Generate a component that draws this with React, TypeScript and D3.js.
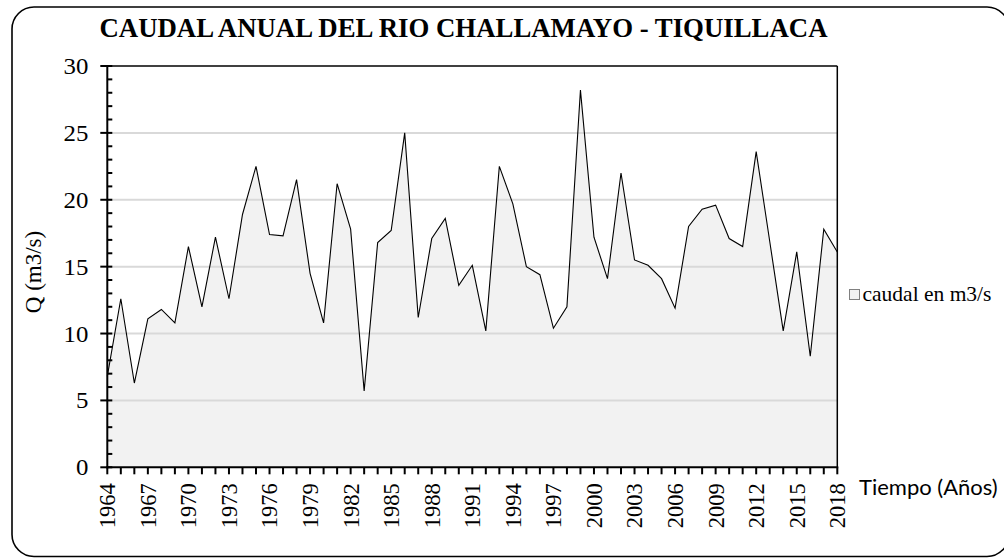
import React from "react";
import * as d3 from "d3";

const years: number[] = d3.range(1964, 2019);
const caudal: number[] = [
  6.8, 12.6, 6.3, 11.1, 11.8, 10.8, 16.5, 12.0, 17.2, 12.6,
  18.9, 22.5, 17.4, 17.3, 21.5, 14.5, 10.8, 21.2, 17.8, 5.7,
  16.8, 17.7, 25.0, 11.2, 17.1, 18.6, 13.6, 15.1, 10.2, 22.5,
  19.7, 15.0, 14.4, 10.4, 12.0, 28.2, 17.2, 14.1, 22.0, 15.5,
  15.1, 14.1, 11.9, 18.0, 19.3, 19.6, 17.1, 16.5, 23.6, 16.9,
  10.2, 16.1, 8.3, 17.8, 16.1,
];
const yTicks: number[] = [0, 5, 10, 15, 20, 25, 30];
const xTickLabels: number[] = d3.range(1964, 2019, 3);
const title = "CAUDAL ANUAL DEL RIO CHALLAMAYO - TIQUILLACA";
const yTitle = "Q (m3/s)";
const xTitle = "Tiempo (Años)";
const legendLabel = "caudal en m3/s";

export default function App() {
  const W = 1004, H = 558;
  const left = 107.3, right = 837.3, top = 66, bottom = 467.3;
  const x = d3.scaleLinear().domain([1964, 2018]).range([left, right]);
  const y = d3.scaleLinear().domain([0, 30]).range([bottom, top]);
  const data = years.map((yr, i) => ({ yr, v: caudal[i] }));
  const area = d3.area<{ yr: number; v: number }>()
    .x(d => x(d.yr)).y0(y(0)).y1(d => y(d.v));
  const line = d3.line<{ yr: number; v: number }>()
    .x(d => x(d.yr)).y(d => y(d.v));
  const minor = d3.range(0, 31).filter(v => v % 5 !== 0);
  const serif = "'Liberation Serif', 'Times New Roman', serif";

  return (
    <svg width={W} height={H} style={{ position: "absolute", left: 0, top: 0, display: "block" }}>
      <rect x={0} y={0} width={W} height={H} fill="#fff" />
      <rect x={12} y={7} width={997} height={549.5} rx={22} ry={22}
        fill="none" stroke="#000" strokeWidth={1.6} />
      <text x={463.5} y={37} textAnchor="middle" fontFamily={serif}
        fontWeight="bold" fontSize={26.8}>{title}</text>

      <path d={area(data) || ""} fill="#f2f2f2" />
      {yTicks.filter(t => t > 0 && t < 30).map(t => (
        <line key={"g" + t} x1={left} x2={right} y1={y(t)} y2={y(t)}
          stroke="#d9d9d9" strokeWidth={2} />
      ))}
      <path d={line(data) || ""} fill="none" stroke="#000" strokeWidth={1.1}
        strokeLinejoin="miter" />

      <line x1={left} x2={right} y1={top} y2={top} stroke="#000" strokeWidth={1.5} />
      <line x1={right} x2={right} y1={top} y2={bottom} stroke="#000" strokeWidth={1.5} />
      <line x1={left} x2={left} y1={top - 1} y2={bottom + 1} stroke="#000" strokeWidth={2} />
      <line x1={left - 1} x2={right + 1} y1={bottom} y2={bottom} stroke="#000" strokeWidth={2} />

      {yTicks.map(t => (
        <g key={"yt" + t}>
          <line x1={left - 7} x2={left + 5} y1={y(t)} y2={y(t)} stroke="#000" strokeWidth={2} />
          <text transform={`translate(${left - 19},${y(t)}) scale(1.08,1)`} dy="0.35em" textAnchor="end"
            fontFamily={serif} fontSize={23}>{t}</text>
        </g>
      ))}
      {minor.map(t => (
        <line key={"ym" + t} x1={left} x2={left + 5} y1={y(t)} y2={y(t)}
          stroke="#000" strokeWidth={2} />
      ))}
      {years.map(yr => (
        <line key={"xt" + yr} x1={x(yr)} x2={x(yr)} y1={bottom} y2={bottom + 7}
          stroke="#000" strokeWidth={2} />
      ))}
      {xTickLabels.map(yr => (
        <text key={"xl" + yr} transform={`translate(${x(yr)},${bottom + 16}) rotate(-90)`}
          textAnchor="end" dy="0.35em" fontFamily={serif} fontSize={22.5}>{yr}</text>
      ))}

      <text transform={`translate(41,272) rotate(-90)`} textAnchor="middle"
        fontFamily={serif} fontSize={23}>{yTitle}</text>
      <text x={859} y={495} fontFamily="Lato, 'Open Sans', sans-serif" fontSize={22}>{xTitle}</text>

      <rect x={849.5} y={289.5} width={10} height={10} fill="#f2f2f2"
        stroke="#808080" strokeWidth={1} />
      <text x={862.5} y={300.5} fontFamily={serif} fontSize={21.5}>{legendLabel}</text>
    </svg>
  );
}
